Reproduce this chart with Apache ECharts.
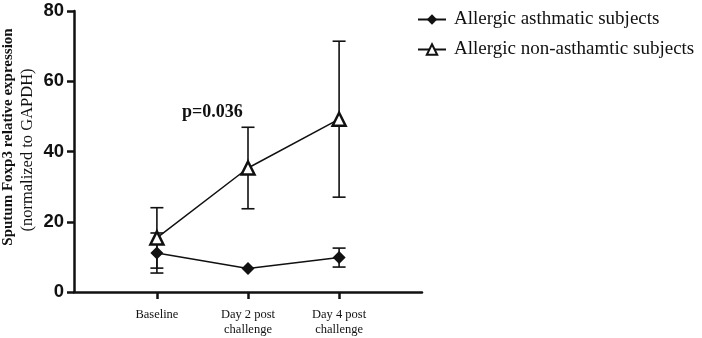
<!DOCTYPE html>
<html>
<head>
<meta charset="utf-8">
<script src="https://cdn.jsdelivr.net/npm/echarts@6/dist/echarts.min.js"></script>
<style>html,body{margin:0;padding:0;background:#fff}#c{width:702px;height:338px}</style>
</head>
<body>
<div id="c"></div>
<script>
var categories = ['Baseline', 'Day 2 post\nchallenge', 'Day 4 post\nchallenge'];
var asthmaticMean = [11.1, 6.7, 9.8];
var asthmaticErr = [5.7, 0, 2.7];
var nonAsthmaticMean = [15.4, 35.3, 49.2];
var nonAsthmaticErr = [8.6, 11.6, 22.2];
var yTicks = [0, 20, 40, 60, 80];

function pts(arr){ return arr.map(function(v,i){ return [i+1, v]; }); }
function errData(mean, err){ return mean.map(function(v,i){ return [i+1, v-err[i], v+err[i]]; }); }

function errRender(params, api){
  var x = api.value(0), lo = api.value(1), hi = api.value(2);
  if (hi - lo < 0.01) return null;
  var pLo = api.coord([x, lo]), pHi = api.coord([x, hi]);
  var w = 6.5;
  var st = {stroke:'#111', lineWidth:1.6};
  return {type:'group', children:[
    {type:'line', shape:{x1:pLo[0], y1:pLo[1], x2:pHi[0], y2:pHi[1]}, style:st},
    {type:'line', shape:{x1:pLo[0]-w, y1:pLo[1], x2:pLo[0]+w, y2:pLo[1]}, style:st},
    {type:'line', shape:{x1:pHi[0]-w, y1:pHi[1], x2:pHi[0]+w, y2:pHi[1]}, style:st}
  ]};
}

var chart = echarts.init(document.getElementById('c'));
chart.setOption({
  animation:false,
  grid:{left:74, right:280, top:11, bottom:46},
  xAxis:{type:'value', min:0.09, max:3.91,
    splitLine:{show:false},
    axisLine:{lineStyle:{color:'#111', width:2.5}},
    axisTick:{customValues:[1,2,3], length:7, lineStyle:{color:'#111', width:2.5}},
    axisLabel:{customValues:[1,2,3], margin:15, color:'#111', fontFamily:'Liberation Serif', fontSize:12.5, lineHeight:15,
      formatter:function(v){ return categories[Math.round(v)-1] || ''; }}
  },
  yAxis:{type:'value', min:0, max:80, interval:20,
    splitLine:{show:false},
    axisLine:{show:true, lineStyle:{color:'#111', width:2.5}},
    axisTick:{show:true, length:7, lineStyle:{color:'#111', width:2.5}},
    axisLabel:{margin:10, color:'#111', fontFamily:'Liberation Sans', fontWeight:'bold', fontSize:18.5,
      formatter:function(v){ return yTicks.indexOf(v) >= 0 ? String(v) : ''; }}
  },
  legend:{orient:'vertical', left:412, top:5, itemGap:11, itemWidth:28, itemHeight:13,
    textStyle:{fontFamily:'Liberation Serif', fontSize:19, color:'#111', padding:[0,0,0,3]},
    data:['Allergic asthmatic subjects','Allergic non-asthamtic subjects']},
  graphic:[
    {type:'text', left:182, top:103, style:{text:'p=0.036', font:'bold 18px "Liberation Serif"', fill:'#111'}},
    {type:'text', x:8, y:137, rotation:Math.PI/2, style:{text:'Sputum Foxp3 relative expression', font:'bold 15px "Liberation Serif"', fill:'#111', align:'center', verticalAlign:'middle'}},
    {type:'text', x:28, y:150, rotation:Math.PI/2, style:{text:'(normalized to GAPDH)', font:'16.5px "Liberation Serif"', fill:'#111', align:'center', verticalAlign:'middle'}}
  ],
  series:[
    {type:'custom', renderItem:errRender, data:errData(nonAsthmaticMean, nonAsthmaticErr), z:1, silent:true},
    {type:'custom', renderItem:errRender, data:errData(asthmaticMean, asthmaticErr), z:1, silent:true},
    {name:'Allergic asthmatic subjects', type:'line', data:pts(asthmaticMean), z:3,
      symbol:'diamond', symbolSize:13, lineStyle:{color:'#111', width:1.5},
      itemStyle:{color:'#111', borderColor:'#111', borderWidth:0}},
    {name:'Allergic non-asthamtic subjects', type:'line', data:pts(nonAsthmaticMean), z:3,
      symbol:'triangle', symbolSize:13, lineStyle:{color:'#111', width:1.5},
      itemStyle:{color:'#fff', borderColor:'#111', borderWidth:2.5}}
  ]
});
</script>
</body>
</html>
